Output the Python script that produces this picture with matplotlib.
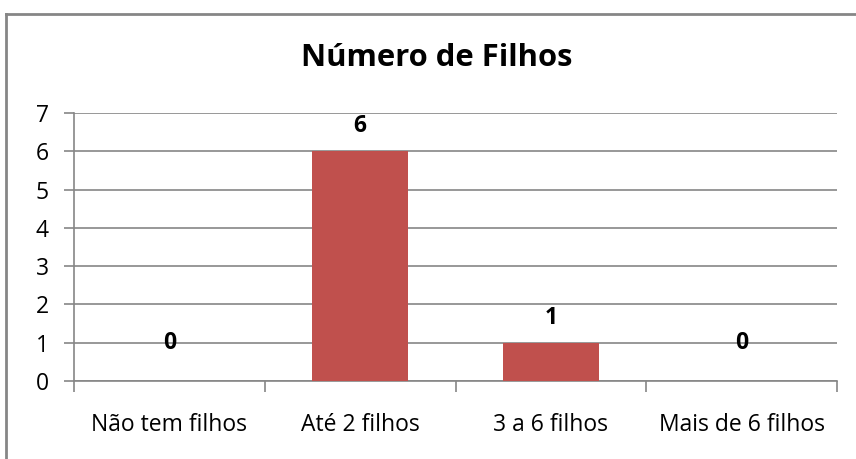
import matplotlib
matplotlib.use("Agg")
import matplotlib.pyplot as plt
from matplotlib.lines import Line2D

categories = ["Não tem filhos", "Até 2 filhos", "3 a 6 filhos", "Mais de 6 filhos"]
values = [0, 6, 1, 0]
y_ticks = [0, 1, 2, 3, 4, 5, 6, 7]
title = "Número de Filhos"

plt.rcParams['font.family'] = ['Open Sans', 'DejaVu Sans']
W, H = 856, 459
fig = plt.figure(figsize=(W / 100, H / 100), dpi=100)
ax = fig.add_axes([74 / W, (H - 381) / H, (837 - 74) / W, (381 - 113) / H])

grid_c = "#868686"
x = list(range(len(categories)))
ax.bar(x, values, width=0.5, color="#C0504D", zorder=3)
ax.set_xlim(-0.5, len(categories) - 0.5)
ax.set_ylim(0, 7)
ax.set_yticks(y_ticks)
ax.yaxis.grid(True, color=grid_c, linewidth=1.2, zorder=0)
ax.set_xticks([i - 0.5 for i in range(len(categories) + 1)])
ax.set_xticklabels([])
ax.set_xticks(x, minor=True)
ax.set_xticklabels(categories, minor=True, fontsize=16.5)
ax.tick_params(axis="x", which="minor", length=0, pad=23)
ax.tick_params(axis="x", which="major", length=8, width=1.2, color=grid_c, direction="out")
ax.tick_params(axis="y", length=7, width=1.2, color=grid_c, labelsize=16.5, pad=11)
for s in ["top", "right"]:
    ax.spines[s].set_visible(False)
for s in ["left", "bottom"]:
    ax.spines[s].set_color(grid_c)
    ax.spines[s].set_linewidth(1.2)

for xi, v in zip(x, values):
    off = 25 if v else 38
    ax.annotate(str(v), (xi, v), xytext=(0, off), textcoords="offset pixels",
                ha="center", va="center", fontsize=16.5, fontweight="bold", zorder=4)

fig.text(437 / W, 1 - 58 / H, title, ha="center", va="center",
         fontsize=22.3, fontweight="bold")

# chart border (right and bottom edges fall outside the picture)
fig.add_artist(Line2D([6 / W, 6 / W], [0, 1 - 14 / H], color=grid_c, lw=2,
                      transform=fig.transFigure))
fig.add_artist(Line2D([6 / W, 1], [1 - 14 / H, 1 - 14 / H], color=grid_c, lw=2,
                      transform=fig.transFigure))

fig.savefig("out.png", dpi=100)
